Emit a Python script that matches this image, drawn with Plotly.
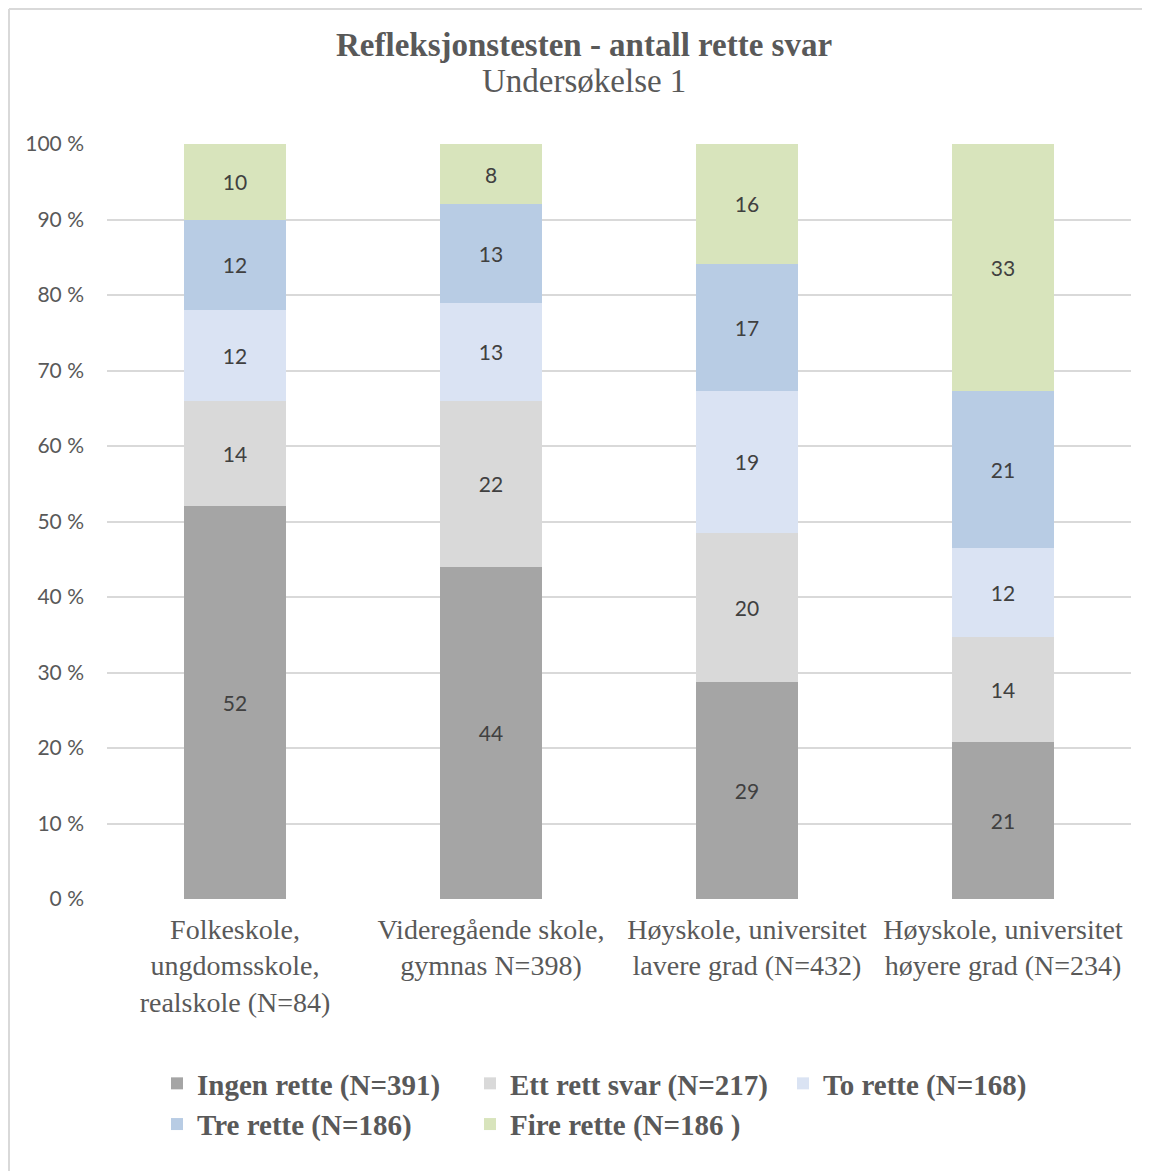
import plotly.graph_objects as go

categories = [
    "Folkeskole,<br>ungdomsskole,<br>realskole (N=84)",
    "Videregående skole,<br>gymnas N=398)",
    "Høyskole, universitet<br>lavere grad (N=432)",
    "Høyskole, universitet<br>høyere grad (N=234)",
]
series_names = [
    "Ingen rette (N=391)",
    "Ett rett svar (N=217)",
    "To rette (N=168)",
    "Tre rette (N=186)",
    "Fire rette (N=186 )",
]
ingen = [52, 44, 29, 21]
ett = [14, 22, 20, 14]
to = [12, 13, 19, 12]
tre = [12, 13, 17, 21]
fire = [10, 8, 16, 33]
series_values = [ingen, ett, to, tre, fire]
colors = ["#A5A5A5", "#D9D9D9", "#DAE3F3", "#B8CCE4", "#D8E4BC"]
y_ticks = list(range(0, 101, 10))
y_ticktext = [f"{v} %" for v in y_ticks]

fig = go.Figure()
for name, vals, col in zip(series_names, series_values, colors):
    fig.add_trace(go.Bar(
        x=categories, y=vals, name="<b>" + name + "</b>", marker_color=col,
        marker_line_width=0,
        text=vals, texttemplate="%{text}", textposition="inside",
        insidetextanchor="middle", textangle=0, constraintext="none",
        textfont=dict(family="Lato", size=21, color="#404040"),
    ))

OFF = 8  # page body offset
W, H = 1142, 1163
L, R, T, B = 99, 19, 136, 272
pw, ph = W - L - R, H - T - B

def px(sx):
    return (sx - OFF - L) / pw

def py(sy):
    return (H - B - (sy - OFF)) / ph

border = dict(color="#D9D9D9", width=2)

fig.update_layout(
    width=W, height=H,
    barmode="stack", barnorm="percent", bargap=0.602,
    plot_bgcolor="white", paper_bgcolor="white",
    margin=dict(l=L, r=R, t=T, b=B, autoexpand=False),
    annotations=[
        dict(text="<b>Refleksjonstesten - antall rette svar</b>", xref="paper", yref="paper",
             x=px(584), y=py(45), xanchor="center", yanchor="middle",
             showarrow=False, font=dict(family="Liberation Serif", size=33, color="#595959")),
        dict(text="Undersøkelse 1", xref="paper", yref="paper",
             x=px(584), y=py(81), xanchor="center", yanchor="middle",
             showarrow=False, font=dict(family="Liberation Serif", size=33, color="#595959")),
    ],
    xaxis=dict(
        tickfont=dict(family="Liberation Serif", size=28, color="#595959"),
        showgrid=False, showline=False, zeroline=False, ticks="",
        ticklabelstandoff=11, automargin=False,
    ),
    yaxis=dict(
        range=[0, 100], tickvals=y_ticks, ticktext=y_ticktext,
        tickfont=dict(family="Lato", size=21, color="#595959"),
        showgrid=True, gridcolor="#D9D9D9", gridwidth=2,
        zeroline=False, showline=False, ticks="", ticklabelstandoff=22,
        automargin=False,
    ),
    legend=dict(
        orientation="h", xref="container", yref="container",
        x=149 / W, xanchor="left", y=1 - 1050 / H, yanchor="top",
        entrywidth=268, entrywidthmode="pixels",
        font=dict(family="Liberation Serif", size=29, color="#595959"),
        itemclick=False, traceorder="normal", bgcolor="rgba(0,0,0,0)",
    ),
    shapes=[
        dict(type="line", xref="paper", yref="paper",
             x0=px(9), x1=px(1150), y0=py(9), y1=py(9), line=border, layer="below"),
        dict(type="line", xref="paper", yref="paper",
             x0=px(9), x1=px(9), y0=py(9), y1=py(1171), line=border, layer="below"),
    ],
)

fig.write_html("out.html")
